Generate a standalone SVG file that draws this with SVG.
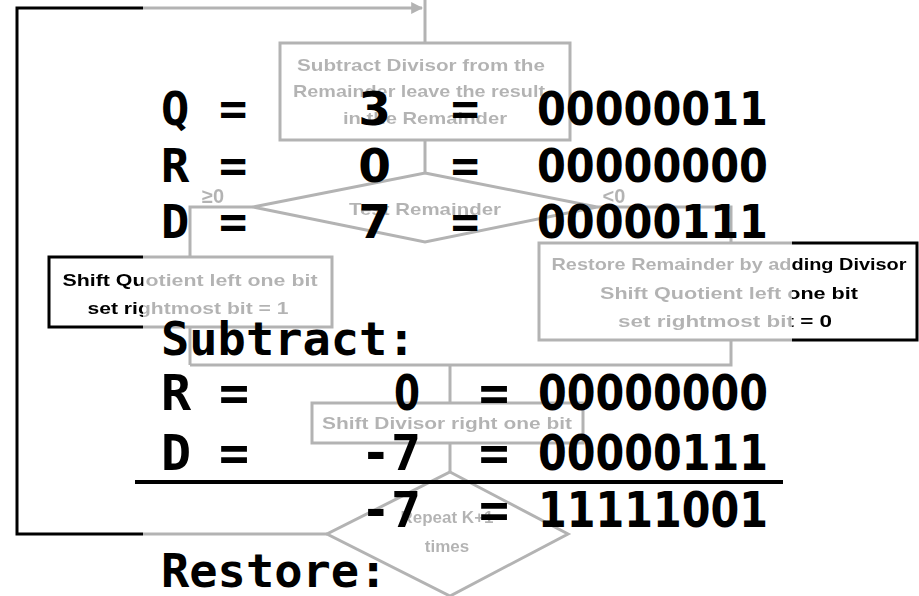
<svg xmlns="http://www.w3.org/2000/svg" width="919" height="596" viewBox="0 0 919 596">
<defs>
<style>
.ln{fill:none;stroke:#000;stroke-width:3}
.bx{fill:#fff;stroke:#000;stroke-width:3}
.ft{font-family:"Liberation Sans",Arial,sans-serif;font-weight:bold;font-size:17px;fill:#000;text-anchor:middle}
.lb{font-size:20px}
.big{font-family:"DejaVu Sans Mono","Liberation Mono",monospace;font-weight:bold;font-size:47px;fill:#000}
.big2{font-family:"DejaVu Sans Mono","Liberation Mono",monospace;font-weight:bold;font-size:50px;fill:#000}
.dg{font-family:"DejaVu Sans","Liberation Sans",sans-serif;font-weight:bold;font-size:47px;fill:#000}
.dg2{font-family:"DejaVu Sans","Liberation Sans",sans-serif;font-weight:bold;font-size:50px;fill:#000}
.e{text-anchor:end}
</style>
<marker id="arr" viewBox="0 0 10 10" refX="9" refY="5" markerWidth="4" markerHeight="4" orient="auto" markerUnits="strokeWidth">
<path d="M0,0 L10,5 L0,10 z" fill="#000"/>
</marker>
<filter id="soft" x="-5%" y="-5%" width="110%" height="110%"><feGaussianBlur stdDeviation="0.5"/></filter>
</defs>
<rect width="919" height="596" fill="#fff"/>
<g id="flowchart" filter="url(#soft)">
<g id="connectors">
<path class="ln" d="M425,0 V43"/>
<path class="ln" d="M327,534 H17 V8 H422" marker-end="url(#arr)"/>
<path class="ln" d="M425,140 V173"/>
<path class="ln" d="M253,207 H190 V257"/>
<path class="ln" d="M597,207 H731 V243"/>
<path class="ln" d="M190,327 V365"/>
<path class="ln" d="M731,340 V365 H190"/>
<path class="ln" d="M450,365 V403"/>
<path class="ln" d="M450,443 V472"/>
<text class="ft lb" x="213" y="203">≥0</text>
<text class="ft lb" x="614" y="203">&lt;0</text>
</g>
<g id="subtract">
<rect class="bx" x="280" y="43" width="290" height="97"/>
<text class="ft" x="421" y="71" textLength="248" lengthAdjust="spacingAndGlyphs">Subtract Divisor from the</text>
<text class="ft" x="419" y="97" textLength="252" lengthAdjust="spacingAndGlyphs">Remainder leave the result</text>
<text class="ft" x="425" y="124" textLength="164" lengthAdjust="spacingAndGlyphs">in the Remainder</text>
</g>
<g id="test">
<polygon class="bx" points="425,173 597,207 425,242 253,207"/>
<text class="ft" x="425" y="215" textLength="152" lengthAdjust="spacingAndGlyphs">Test Remainder</text>
</g>
<g id="shiftq1">
<rect class="bx" x="49" y="257" width="283" height="70"/>
<text class="ft" x="190" y="286" textLength="255" lengthAdjust="spacingAndGlyphs">Shift Quotient left one bit</text>
<text class="ft" x="188" y="314" textLength="201" lengthAdjust="spacingAndGlyphs">set rightmost bit = 1</text>
</g>
<g id="restore">
<rect class="bx" x="539" y="243" width="378" height="97"/>
<text class="ft" x="729" y="270" textLength="355" lengthAdjust="spacingAndGlyphs">Restore Remainder by adding Divisor</text>
<text class="ft" x="729" y="299" textLength="258" lengthAdjust="spacingAndGlyphs">Shift Quotient left one bit</text>
<text class="ft" x="725" y="327" textLength="214" lengthAdjust="spacingAndGlyphs">set rightmost bit = 0</text>
</g>
<g id="shiftd">
<rect class="bx" x="312" y="403" width="271" height="40"/>
<text class="ft" x="447" y="429" textLength="250" lengthAdjust="spacingAndGlyphs">Shift Divisor right one bit</text>
</g>
<g id="repeat">
<polygon class="bx" points="450,472 568,534 450,596 327,534"/>
<text class="ft" x="447" y="523">Repeat K+1</text>
<text class="ft" x="447" y="552">times</text>
</g>
</g>
<rect id="fade" x="143" y="0" width="649" height="596" fill="#fff" fill-opacity="0.7"/>
<g id="overlay-text">
<text class="big" x="161" y="125">Q</text>
<text class="big" x="219" y="125">=</text>
<text class="dg e" x="391" y="125">3</text>
<text class="big" x="451" y="125">=</text>
<text class="dg" x="537" y="125" textLength="231" lengthAdjust="spacingAndGlyphs">00000011</text>
<text class="big" x="161" y="182">R</text>
<text class="big" x="219" y="182">=</text>
<text class="dg e" x="391" y="182">0</text>
<text class="big" x="451" y="182">=</text>
<text class="dg" x="537" y="182" textLength="231" lengthAdjust="spacingAndGlyphs">00000000</text>
<text class="big" x="161" y="238">D</text>
<text class="big" x="219" y="238">=</text>
<text class="dg e" x="391" y="238">7</text>
<text class="big" x="451" y="238">=</text>
<text class="dg" x="537" y="238" textLength="231" lengthAdjust="spacingAndGlyphs">00000111</text>
<text class="big" x="161" y="355">Subtract:</text>
<text class="big2" x="161" y="410">R</text>
<text class="big2" x="219" y="410">=</text>
<text class="dg2 e" x="420" y="410" textLength="26" lengthAdjust="spacingAndGlyphs">0</text>
<text class="big2" x="479" y="410">=</text>
<text class="dg2" x="538" y="410" textLength="230" lengthAdjust="spacingAndGlyphs">00000000</text>
<text class="big2" x="161" y="470">D</text>
<text class="big2" x="219" y="470">=</text>
<text class="big2 e" x="421" y="470">-7</text>
<text class="big2" x="479" y="470">=</text>
<text class="dg2" x="538" y="470" textLength="230" lengthAdjust="spacingAndGlyphs">00000111</text>
<line x1="135" y1="482" x2="783" y2="482" stroke="#000" stroke-width="4"/>
<text class="big2 e" x="421" y="527">-7</text>
<text class="big2" x="479" y="527">=</text>
<text class="dg2" x="538" y="527" textLength="230" lengthAdjust="spacingAndGlyphs">11111001</text>
<text class="big" x="161" y="587">Restore:</text>
</g>
</svg>
